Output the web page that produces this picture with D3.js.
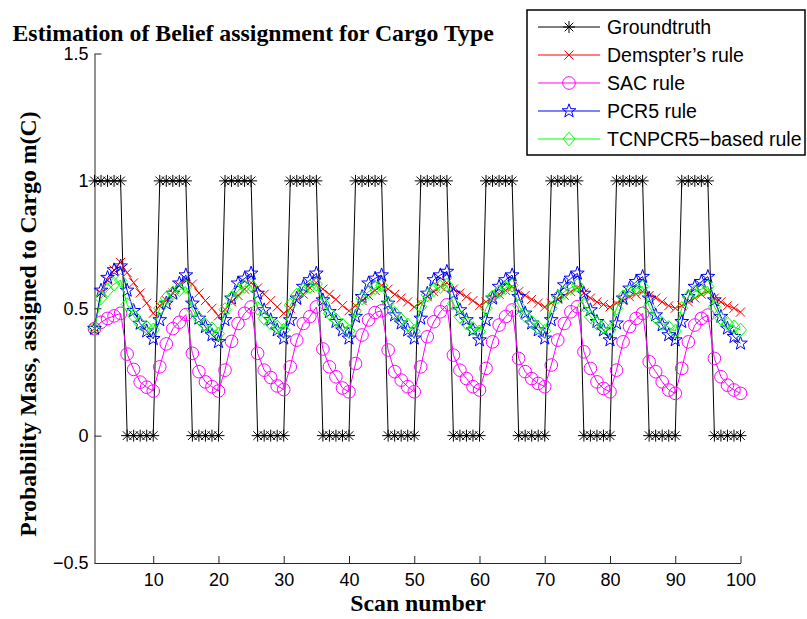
<!DOCTYPE html>
<html>
<head>
<meta charset="utf-8">
<script src="https://cdn.jsdelivr.net/npm/d3@7"></script>
<style>
  body { margin: 0; background: #fff; }
  text { fill: #000; }
</style>
</head>
<body>
<script>
'use strict';

// scan numbers 1..100
const scans = [
  1, 2, 3, 4, 5, 6, 7, 8, 9, 10, 11, 12, 13, 14, 15, 16, 17, 18, 19, 20,
  21, 22, 23, 24, 25, 26, 27, 28, 29, 30, 31, 32, 33, 34, 35, 36, 37, 38, 39, 40,
  41, 42, 43, 44, 45, 46, 47, 48, 49, 50, 51, 52, 53, 54, 55, 56, 57, 58, 59, 60,
  61, 62, 63, 64, 65, 66, 67, 68, 69, 70, 71, 72, 73, 74, 75, 76, 77, 78, 79, 80,
  81, 82, 83, 84, 85, 86, 87, 88, 89, 90, 91, 92, 93, 94, 95, 96, 97, 98, 99, 100
];

const groundtruth = [
  1, 1, 1, 1, 1, 0, 0, 0, 0, 0,  1, 1, 1, 1, 1, 0, 0, 0, 0, 0,
  1, 1, 1, 1, 1, 0, 0, 0, 0, 0,  1, 1, 1, 1, 1, 0, 0, 0, 0, 0,
  1, 1, 1, 1, 1, 0, 0, 0, 0, 0,  1, 1, 1, 1, 1, 0, 0, 0, 0, 0,
  1, 1, 1, 1, 1, 0, 0, 0, 0, 0,  1, 1, 1, 1, 1, 0, 0, 0, 0, 0,
  1, 1, 1, 1, 1, 0, 0, 0, 0, 0,  1, 1, 1, 1, 1, 0, 0, 0, 0, 0
];

const dempster = [
  0.42, 0.56, 0.61, 0.65, 0.68, 0.64, 0.60, 0.56, 0.52, 0.48,
  0.51, 0.53, 0.56, 0.59, 0.615, 0.595, 0.56, 0.53, 0.50, 0.47,
  0.495, 0.525, 0.55, 0.575, 0.60, 0.58, 0.555, 0.53, 0.505, 0.48,
  0.50, 0.53, 0.555, 0.58, 0.60, 0.575, 0.555, 0.535, 0.51, 0.49,
  0.51, 0.53, 0.55, 0.57, 0.59, 0.575, 0.555, 0.54, 0.525, 0.505,
  0.52, 0.545, 0.565, 0.585, 0.60, 0.575, 0.56, 0.545, 0.53, 0.51,
  0.525, 0.54, 0.555, 0.57, 0.585, 0.565, 0.55, 0.535, 0.52, 0.505,
  0.52, 0.535, 0.55, 0.565, 0.58, 0.56, 0.54, 0.525, 0.515, 0.505,
  0.52, 0.53, 0.545, 0.555, 0.565, 0.55, 0.54, 0.525, 0.51, 0.50,
  0.51, 0.525, 0.54, 0.555, 0.565, 0.54, 0.525, 0.51, 0.50, 0.485
];

const sac = [
  0.42, 0.445, 0.46, 0.47, 0.48, 0.32, 0.26, 0.21, 0.19, 0.175,
  0.27, 0.36, 0.42, 0.445, 0.475, 0.323, 0.251, 0.211, 0.192, 0.175,
  0.257, 0.37, 0.44, 0.48, 0.505, 0.323, 0.257, 0.228, 0.195, 0.181,
  0.27, 0.375, 0.44, 0.467, 0.505, 0.34, 0.27, 0.231, 0.187, 0.172,
  0.283, 0.395, 0.454, 0.483, 0.49, 0.336, 0.251, 0.218, 0.192, 0.172,
  0.27, 0.388, 0.447, 0.486, 0.513, 0.316, 0.257, 0.224, 0.192, 0.179,
  0.264, 0.368, 0.434, 0.467, 0.493, 0.303, 0.251, 0.224, 0.205, 0.192,
  0.277, 0.375, 0.44, 0.486, 0.506, 0.329, 0.264, 0.211, 0.185, 0.172,
  0.257, 0.368, 0.428, 0.46, 0.48, 0.29, 0.251, 0.211, 0.179, 0.166,
  0.264, 0.368, 0.434, 0.46, 0.473, 0.303, 0.231, 0.198, 0.179, 0.166
];

const pcr5 = [
  0.42, 0.57, 0.62, 0.65, 0.665, 0.57, 0.49, 0.44, 0.41, 0.38,
  0.454, 0.519, 0.558, 0.598, 0.63, 0.519, 0.46, 0.427, 0.395, 0.368,
  0.454, 0.539, 0.598, 0.617, 0.637, 0.558, 0.493, 0.454, 0.414, 0.382,
  0.454, 0.539, 0.585, 0.611, 0.637, 0.532, 0.486, 0.447, 0.414, 0.382,
  0.467, 0.545, 0.598, 0.617, 0.63, 0.519, 0.473, 0.441, 0.414, 0.382,
  0.46, 0.558, 0.611, 0.63, 0.644, 0.558, 0.493, 0.454, 0.414, 0.375,
  0.454, 0.539, 0.585, 0.611, 0.63, 0.545, 0.48, 0.441, 0.414, 0.382,
  0.454, 0.545, 0.591, 0.617, 0.637, 0.558, 0.493, 0.447, 0.414, 0.375,
  0.441, 0.539, 0.578, 0.604, 0.624, 0.539, 0.473, 0.434, 0.395, 0.375,
  0.447, 0.545, 0.585, 0.604, 0.624, 0.532, 0.467, 0.421, 0.388, 0.362
];

const tcnpcr5 = [
  0.42, 0.54, 0.57, 0.595, 0.61, 0.515, 0.47, 0.44, 0.425, 0.415,
  0.50, 0.54, 0.56, 0.572, 0.585, 0.495, 0.46, 0.435, 0.42, 0.40,
  0.495, 0.54, 0.57, 0.585, 0.59, 0.50, 0.46, 0.44, 0.427, 0.414,
  0.513, 0.552, 0.572, 0.585, 0.595, 0.52, 0.48, 0.455, 0.435, 0.41,
  0.49, 0.54, 0.565, 0.58, 0.59, 0.52, 0.48, 0.455, 0.435, 0.41,
  0.506, 0.552, 0.572, 0.585, 0.591, 0.519, 0.467, 0.441, 0.421, 0.408,
  0.50, 0.545, 0.565, 0.58, 0.59, 0.51, 0.47, 0.445, 0.425, 0.41,
  0.50, 0.545, 0.565, 0.58, 0.59, 0.513, 0.467, 0.441, 0.427, 0.414,
  0.50, 0.545, 0.565, 0.578, 0.585, 0.506, 0.465, 0.44, 0.425, 0.41,
  0.50, 0.545, 0.565, 0.575, 0.585, 0.506, 0.46, 0.441, 0.427, 0.415
];

const seriesNames = ["Groundtruth", "Demspter\u2019s rule", "SAC rule", "PCR5 rule", "TCNPCR5\u2212based rule"];
const xTicks = [10, 20, 30, 40, 50, 60, 70, 80, 90, 100];
const yTicks = [-0.5, 0, 0.5, 1, 1.5];
const yTickLabels = ["\u22120.5", "0", "0.5", "1", "1.5"];

const width = 807, height = 619;
const serif = "'Liberation Serif', 'Times New Roman', serif";
const sans = "'Liberation Sans', Arial, sans-serif";

// marker shapes (MATLAB style)
function asterisk(r) {
  let a = r * 0.72;
  return `M${-r},0L${r},0M0,${-r}L0,${r}M${-a},${-a}L${a},${a}M${-a},${a}L${a},${-a}`;
}
function cross(r) {
  return `M${-r},${-r}L${r},${r}M${-r},${r}L${r},${-r}`;
}
function circle(r) {
  return `M${r},0A${r},${r} 0 1,1 ${-r},0A${r},${r} 0 1,1 ${r},0Z`;
}
function star(r) {
  let pts = [];
  for (let k = 0; k < 10; k++) {
    let rr = k % 2 === 0 ? r : r * 0.4;
    let ang = -Math.PI / 2 + k * Math.PI / 5;
    pts.push([rr * Math.cos(ang), rr * Math.sin(ang)]);
  }
  return "M" + pts.map(p => p[0].toFixed(2) + "," + p[1].toFixed(2)).join("L") + "Z";
}
function diamond(w, h) {
  return `M0,${-h}L${w},0L0,${h}L${-w},0Z`;
}

const series = [
  { name: seriesNames[0], values: groundtruth, color: "#000000", marker: asterisk(6) },
  { name: seriesNames[1], values: dempster, color: "#ff0000", marker: cross(4.5) },
  { name: seriesNames[2], values: sac, color: "#ff00ff", marker: circle(6.3) },
  { name: seriesNames[3], values: pcr5, color: "#0000ff", marker: star(7.2) },
  { name: seriesNames[4], values: tcnpcr5, color: "#00ff00", marker: diamond(6, 6.8) }
];

let svg = d3.select("body").append("svg")
  .attr("width", width)
  .attr("height", height)
  .style("display", "block")
  .style("background", "#fff");

let x = d3.scaleLinear().domain([1, 100]).range([94.5, 740.5]);
let y = d3.scaleLinear().domain([-0.5, 1.5]).range([563, 53.5]);

// axes
let xAxis = svg.append("g")
  .attr("transform", `translate(0,${y(-0.5)})`)
  .call(d3.axisBottom(x).tickValues(xTicks).tickSize(-7).tickSizeOuter(0).tickPadding(10));

let yAxis = svg.append("g")
  .attr("transform", `translate(${x(1)},0)`)
  .call(d3.axisLeft(y).tickValues(yTicks).tickSize(-7).tickSizeOuter(0).tickPadding(6)
    .tickFormat((d, i) => yTickLabels[i]));

[xAxis, yAxis].forEach(a => {
  a.selectAll("path, line").attr("stroke", "#262626").attr("stroke-width", 1);
  a.selectAll("text")
    .attr("font-family", sans)
    .attr("font-size", 18)
    .attr("fill", "#000");
});

// series
let line = d3.line()
  .x((d, i) => x(scans[i]))
  .y(d => y(d));

series.forEach(s => {
  let g = svg.append("g");
  g.append("path")
    .attr("d", line(s.values))
    .attr("fill", "none")
    .attr("stroke", s.color)
    .attr("stroke-width", 1);
  g.selectAll("path.m")
    .data(s.values)
    .enter().append("path")
    .attr("class", "m")
    .attr("transform", (d, i) => `translate(${x(scans[i])},${y(d)})`)
    .attr("d", s.marker)
    .attr("fill", "none")
    .attr("stroke", s.color)
    .attr("stroke-width", 1);
});

// title and labels
svg.append("text")
  .attr("x", 12.5)
  .attr("y", 41)
  .attr("font-family", serif)
  .attr("font-weight", "bold")
  .attr("font-size", 23.8)
  .text("Estimation of Belief assignment for Cargo Type");

svg.append("text")
  .attr("x", 418)
  .attr("y", 611)
  .attr("text-anchor", "middle")
  .attr("font-family", serif)
  .attr("font-weight", "bold")
  .attr("font-size", 23.8)
  .text("Scan number");

svg.append("text")
  .attr("transform", "translate(36,324) rotate(-90)")
  .attr("text-anchor", "middle")
  .attr("font-family", serif)
  .attr("font-weight", "bold")
  .attr("font-size", 23.8)
  .text("Probability Mass, assigned to Cargo m(C)");

// legend
let legend = svg.append("g");
legend.append("rect")
  .attr("x", 527)
  .attr("y", 10)
  .attr("width", 278)
  .attr("height", 145)
  .attr("fill", "#fff")
  .attr("stroke", "#000")
  .attr("stroke-width", 1.5);

let legendY = d3.scalePoint().domain(seriesNames).range([27, 139]);

series.forEach(s => {
  let ly = legendY(s.name);
  legend.append("line")
    .attr("x1", 538).attr("x2", 600)
    .attr("y1", ly).attr("y2", ly)
    .attr("stroke", s.color)
    .attr("stroke-width", 1);
  legend.append("path")
    .attr("transform", `translate(569,${ly})`)
    .attr("d", s.marker)
    .attr("fill", "none")
    .attr("stroke", s.color)
    .attr("stroke-width", 1);
  legend.append("text")
    .attr("x", 607)
    .attr("y", ly)
    .attr("dy", "0.35em")
    .attr("font-family", sans)
    .attr("font-size", 19.5)
    .text(s.name);
});
</script>
</body>
</html>
